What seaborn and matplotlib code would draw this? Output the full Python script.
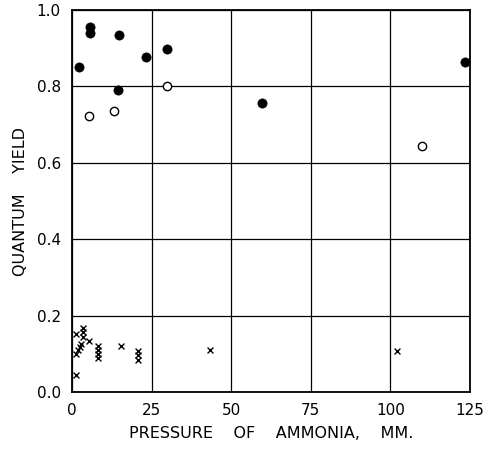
import matplotlib
matplotlib.use("Agg")
import matplotlib.pyplot as plt
import seaborn as sns
import pandas as pd

# filled circles
filled_x = [2.2, 5.5, 5.5, 14.8, 23.1, 29.9, 14.5, 59.8, 123.5]
filled_y = [0.85, 0.955, 0.94, 0.935, 0.876, 0.899, 0.79, 0.757, 0.863]
# open circles
open_x = [5.4, 13.1, 29.7, 109.8]
open_y = [0.723, 0.735, 0.80, 0.644]
# crosses
cross_x = [1.1, 1.1, 1.8, 2.6, 2.8, 1.4, 3.6, 3.5, 3.6, 5.4, 8.3, 8.3, 8.3, 8.3,
           15.4, 20.8, 20.8, 20.8, 43.2, 102.0]
cross_y = [0.045, 0.10, 0.109, 0.118, 0.125, 0.151, 0.167, 0.158, 0.145, 0.134,
           0.121, 0.111, 0.10, 0.09, 0.121, 0.107, 0.096, 0.085, 0.109, 0.107]

x_ticks = [0, 25, 50, 75, 100, 125]
x_ticklabels = ["0", "25", "50", "75", "100", "125"]
y_ticks = [0.0, 0.2, 0.4, 0.6, 0.8, 1.0]
y_ticklabels = ["0.0", "0.2", "0.4", "0.6", "0.8", "1.0"]

sns.set_style("white")
plt.rcParams['font.family'] = ['DejaVu Sans']

fig = plt.figure(figsize=(4.88, 4.49), dpi=100)
ax = fig.add_axes([72/488, 1-392/449, (470-72)/488, (392-10)/449])

df_f = pd.DataFrame({"x": filled_x, "y": filled_y})
df_o = pd.DataFrame({"x": open_x, "y": open_y})
df_c = pd.DataFrame({"x": cross_x, "y": cross_y})

sns.scatterplot(data=df_f, x="x", y="y", ax=ax, marker="o", s=44,
                color="black", edgecolor="black", linewidth=0.5, zorder=3)
sns.scatterplot(data=df_o, x="x", y="y", ax=ax, marker="o", s=36,
                facecolor="white", edgecolor="black", linewidth=1.0, zorder=3)
sns.scatterplot(data=df_c, x="x", y="y", ax=ax, marker="x", s=18,
                color="black", linewidth=1.0, zorder=3)

ax.set_xlim(0, 125)
ax.set_ylim(0, 1.0)
ax.set_xticks(x_ticks)
ax.set_xticklabels(x_ticklabels)
ax.set_yticks(y_ticks)
ax.set_yticklabels(y_ticklabels)
ax.grid(True, color="black", linewidth=0.9)
ax.set_axisbelow(True)
for sp in ax.spines.values():
    sp.set_color("black")
    sp.set_linewidth(1.3)
ax.tick_params(length=0, labelsize=11, colors="black", pad=8)

ax.set_xlabel("PRESSURE    OF    AMMONIA,    MM.", fontsize=11.5, labelpad=6,
              color="black")
ax.set_ylabel("QUANTUM    YIELD", fontsize=11.5, labelpad=6, color="black")

fig.savefig("out.png", dpi=100)
